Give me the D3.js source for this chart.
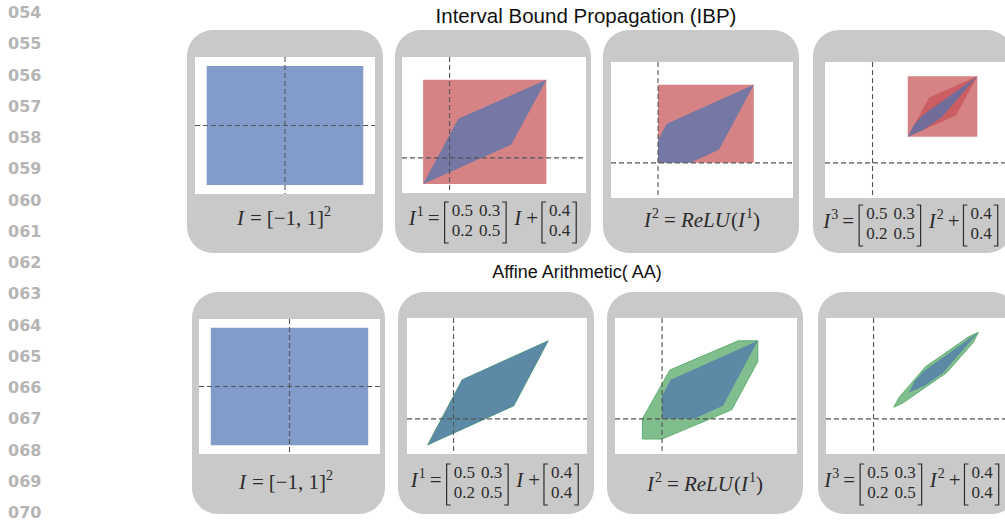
<!DOCTYPE html>
<html>
<head>
<meta charset="utf-8">
<script src="https://cdn.jsdelivr.net/npm/d3@7"></script>
<style>
  html, body { margin: 0; padding: 0; background: #fff; }
  svg { display: block; }
</style>
</head>
<body>
<svg id="fig" width="1005" height="531"></svg>
<script>
// ---- text ----
const lineNumbers = ["054","055","056","057","058","059","060","061","062","063","064","065","066","067","068","069","070"];
const rowTitles = ["Interval Bound Propagation (IBP)", "Affine Arithmetic( AA)"];

// ---- sets in the plane (x, y) ----
const inputBox   = [[-1,-1],[1,-1],[1,1],[-1,1]];
// layer 1: affine image and its interval hull
const exact1     = [[-0.3,-0.4],[0.7,0.2],[1.1,1.2],[0.1,0.6]];
const ibpBox1    = [[-0.3,-0.4],[1.1,-0.4],[1.1,1.2],[-0.3,1.2]];
// layer 2: ReLU
const exact2     = [[0,0],[0.37,0],[0.7,0.2],[1.1,1.2],[0.1,0.6],[0,0.35]];
const ibpBox2    = [[0,0],[1.1,0],[1.1,1.2],[0,1.2]];
const aaSet2     = [[1.1,1.2],[0.875,1.2],[0.09,0.75],[-0.225,0],[-0.225,-0.31],[0,-0.31],[0.8,0.14],[1.1,0.88]];
// layer 3: second affine map
const exact3     = [[0.4,0.4],[0.58,0.51],[0.79,0.71],[1.19,1.33],[0.57,0.73],[0.47,0.58]];
const ibpImage3  = [[0.4,0.4],[0.95,0.73],[1.19,1.33],[0.64,1.0]];
const ibpBox3    = [[0.4,0.4],[1.19,0.4],[1.19,1.33],[0.4,1.33]];
const aaSet3     = [[1.19,1.33],[1.08,1.26],[0.59,0.80],[0.29,0.33],[0.23,0.18],[0.34,0.25],[0.83,0.71],[1.13,1.17]];

// axis limits of each small plot
const limInput = [-1.15, 1.15];
const limLayer = [-0.54, 1.55];

// formulas under each plot
const W = [["0.5","0.3"],["0.2","0.5"]];
const B = [["0.4"],["0.4"]];
const f0 = [{t:"I",it:1},{g:5},{t:"="},{g:5},{t:"[−1, 1]"},{sup:"2"}];
const f1 = [{t:"I",it:1},{sup:"1"},{g:4},{t:"="},{g:5},{mat:W},{g:7},{t:"I",it:1},{g:4},{t:"+"},{g:4},{mat:B}];
const f2 = [{t:"I",it:1},{sup:"2"},{g:5},{t:"="},{g:5},{t:"ReLU",it:1},{t:"("},{t:"I",it:1},{sup:"1"},{t:")"}];
const f3 = [{t:"I",it:1},{sup:"3"},{g:4},{t:"="},{g:5},{mat:W},{g:7},{t:"I",it:1},{sup:"2"},{g:4},{t:"+"},{g:4},{mat:B}];

// ---- styles ----
const fills = {
  red:   {fill:"#C44E52", op:0.7, stroke:"none"},
  blue:  {fill:"#4C72B0", op:0.7, stroke:"none"},
  green: {fill:"#55A868", op:0.75, stroke:"#55A868"}
};

// ---- layout ----
const rows = [
  { title: {x:586, y:23, size:20.5},
    cards: [[187,30,196,223],[395,30,196,223],[603,30,196,223],[813,30,200,223]],
    plots: [[195,57,180,137],[402,57,184,136],[611,62,182,136],[825,62,184,136]],
    eq:    [[284,225],[493,225],[702,227],[911,228]],
    layers:[
      {lim:limInput, shapes:[[inputBox,"blue"]], f:f0},
      {lim:limLayer, shapes:[[ibpBox1,"red"],[exact1,"blue"]], f:f1},
      {lim:limLayer, shapes:[[ibpBox2,"red"],[exact2,"blue"]], f:f2},
      {lim:limLayer, shapes:[[ibpBox3,"red"],[ibpImage3,"red"],[exact3,"blue"]], f:f3}
    ]},
  { title: {x:577, y:278, size:18},
    cards: [[192,292,193,222],[398,292,196,222],[607,292,196,222],[818,292,200,222]],
    plots: [[199,319,181,135],[407,318,180,136],[615,318,182,136],[826,318,184,136]],
    eq:    [[286,489],[495,487],[705,491],[912,487]],
    layers:[
      {lim:limInput, shapes:[[inputBox,"blue"]], f:f0},
      {lim:limLayer, shapes:[[exact1,"green"],[exact1,"blue"]], f:f1},
      {lim:limLayer, shapes:[[aaSet2,"green"],[exact2,"blue"]], f:f2},
      {lim:limLayer, shapes:[[aaSet3,"green"],[exact3,"blue"]], f:f3}
    ]}
];

const svg = d3.select("#fig");
svg.append("rect").attr("width",1005).attr("height",531).attr("fill","#fff");

// margin line numbers
svg.append("g").selectAll("text").data(lineNumbers).join("text")
  .attr("x", 8).attr("y", (d,i) => 18 + i*31.25)
  .attr("font-family","DejaVu Sans").attr("font-weight","bold")
  .attr("font-size",16).attr("fill","#b5b5b5").text(d => d);

const MAIN = 21, SUP = 14, ENTRY = 17;
const serif = "Liberation Serif";
const ink = "#2b2b2b";

// lays out a formula token by token, then centres it on cx
function drawFormula(parent, tokens, cx, baseline) {
  const g = parent.append("g").attr("fill", ink).attr("font-family", serif);
  let x = 0;
  tokens.forEach(tok => {
    if (tok.g !== undefined) { x += tok.g; return; }
    if (tok.t !== undefined) {
      const t = g.append("text").attr("x",x).attr("y",0).attr("font-size",MAIN)
        .style("font-style", tok.it ? "italic" : "normal").text(tok.t);
      x += t.node().getComputedTextLength() + (tok.it ? 1 : 0);
      return;
    }
    if (tok.sup !== undefined) {
      const t = g.append("text").attr("x",x).attr("y",-9).attr("font-size",SUP).text(tok.sup);
      x += t.node().getComputedTextLength();
      return;
    }
    if (tok.mat) {
      const m = tok.mat, nCols = m[0].length;
      const top = -23, bot = 18, serifW = 4;
      g.append("path").attr("d", `M${x+serifW},${top}H${x}V${bot}H${x+serifW}`)
        .attr("fill","none").attr("stroke",ink).attr("stroke-width",1.2);
      x += 7;
      for (let c = 0; c < nCols; c++) {
        let w = 0;
        m.forEach((row, r) => {
          const t = g.append("text").attr("x",x).attr("y", r === 0 ? -9 : 11)
            .attr("font-size",ENTRY).text(row[c]);
          w = Math.max(w, t.node().getComputedTextLength());
        });
        x += w + (c < nCols - 1 ? 6 : 2);
      }
      g.append("path").attr("d", `M${x},${top}H${x+serifW}V${bot}H${x}`)
        .attr("fill","none").attr("stroke",ink).attr("stroke-width",1.2);
      x += serifW + 1;
    }
  });
  g.attr("transform", `translate(${cx - x/2},${baseline})`);
}

rows.forEach((row, r) => {
  svg.append("text").attr("x",row.title.x).attr("y",row.title.y)
    .attr("text-anchor","middle").attr("font-family","Liberation Sans")
    .attr("font-size",row.title.size).attr("fill","#111").text(rowTitles[r]);

  row.layers.forEach((layer, i) => {
    const [cx0, cy0, cw, ch] = row.cards[i];
    svg.append("rect").attr("x",cx0).attr("y",cy0).attr("width",cw).attr("height",ch)
      .attr("rx",26).attr("ry",26).attr("fill","#c9c9c9");

    const [px, py, pw, ph] = row.plots[i];
    const xs = d3.scaleLinear().domain(layer.lim).range([px, px + pw]);
    const ys = d3.scaleLinear().domain(layer.lim).range([py + ph, py]);
    const clipId = `clip-${r}-${i}`;
    svg.append("clipPath").attr("id",clipId).append("rect")
      .attr("x",px).attr("y",py).attr("width",pw).attr("height",ph);
    const plot = svg.append("g").attr("clip-path",`url(#${clipId})`);
    plot.append("rect").attr("x",px).attr("y",py).attr("width",pw).attr("height",ph).attr("fill","#fff");

    const line = d3.line().x(d => xs(d[0])).y(d => ys(d[1])).curve(d3.curveLinearClosed);
    layer.shapes.forEach(([pts, key]) => {
      const s = fills[key];
      plot.append("path").attr("d", line(pts))
        .attr("fill", s.fill).attr("fill-opacity", s.op)
        .attr("stroke", s.stroke).attr("stroke-width", 1).attr("stroke-opacity", 0.9);
    });

    // dashed zero lines
    plot.append("line").attr("x1",px).attr("x2",px+pw).attr("y1",ys(0)).attr("y2",ys(0))
      .attr("stroke","#555").attr("stroke-width",1.1).attr("stroke-dasharray","5,3");
    plot.append("line").attr("x1",xs(0)).attr("x2",xs(0)).attr("y1",py).attr("y2",py+ph)
      .attr("stroke","#555").attr("stroke-width",1.1).attr("stroke-dasharray","5,3");

    drawFormula(svg, layer.f, row.eq[i][0], row.eq[i][1]);
  });
});
</script>
</body>
</html>
